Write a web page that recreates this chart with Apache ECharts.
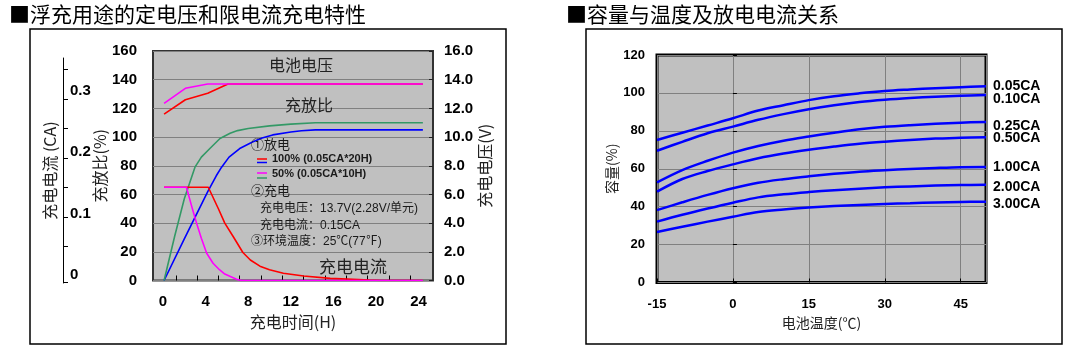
<!DOCTYPE html>
<html>
<head>
<meta charset="utf-8">
<script src="https://cdn.jsdelivr.net/npm/echarts@6/dist/echarts.min.js"></script>
<style>
html,body{margin:0;padding:0;background:#fff;}
#c{width:1071px;height:362px;}
</style>
</head>
<body>
<div id="c"></div>
<script>
// ---------- Left chart data ----------
const leftTitle = '■浮充用途的定电压和限电流充电特性';
const hourLabels = [0, 4, 8, 12, 16, 20, 24];
const hourTicks = [1.2, 3.2, 5.2, 7.2, 9.2, 11.2, 13.2, 15.2, 17.2, 19.2, 21.2, 23.2];
const caLabels = [0, 0.1, 0.2, 0.3];
const caTicks = [-0.0115, 0.0465, 0.0945, 0.1425, 0.1905, 0.2385, 0.2865, 0.3345];
// 充放比 (%) vs hours
const ratio100 = [[0.1,0],[2,29],[4.2,62],[5,73],[5.5,79],[6.2,86],[7.2,92],[8.4,96.5],[9.3,99.3],[10.3,101.5],[12,103.5],[13,104.4],[14.3,105],[24.4,105]];
const ratio50 = [[0.1,0],[1.1,31],[2,57],[3,79],[3.6,86],[4.4,92],[5.35,99],[6.3,102.6],[7,104.5],[8,106],[10,107.8],[12,109],[14.3,110],[24.4,110]];
// 充电电压 (V)
const volt100 = [[0.1,11.6],[2.1,12.6],[4.2,13.05],[6.1,13.7],[24.4,13.7]];
const volt50 = [[0.1,12.35],[2.1,13.4],[4.2,13.7],[24.4,13.7]];
// 充电电流 (plotted on % scale)
const curr100 = [[0.1,65],[4.25,65],[5.2,50],[5.8,40],[6.6,30.5],[7.5,19.5],[8.2,14.3],[9.1,10],[10,7.5],[11.3,5],[13.2,3.1],[15.7,1.5],[19.4,0.3],[20.5,0],[24.4,0]];
const curr50 = [[0.1,65],[2.2,65],[2.7,51.5],[3.15,40],[3.6,29.5],[4.1,19],[4.7,12],[5.3,7.5],[5.8,4.5],[6.9,0.8],[7.4,0],[24.4,0]];

// ---------- Right chart data ----------
const rightTitle = '■容量与温度及放电电流关系';
const temps = [-15, -10, -5, 0, 5, 10, 15, 20, 25, 30, 35, 40, 45, 50];
const rateNames = ['0.05CA', '0.10CA', '0.25CA', '0.50CA', '1.00CA', '2.00CA', '3.00CA'];
const cap005 = [75.2, 79, 82.8, 86.6, 90.7, 93.5, 96.2, 98.3, 99.8, 101, 101.8, 102.5, 103, 103.5];
const cap010 = [69.5, 74.2, 78.7, 82.2, 85.8, 88.8, 91.4, 93.5, 95.2, 96.4, 97.3, 98, 98.5, 98.9];
const cap025 = [52.8, 59.3, 64.2, 68.5, 72.0, 74.8, 77.0, 79.0, 80.8, 82.1, 83.0, 83.7, 84.3, 84.7];
const cap050 = [47.9, 54.6, 58.8, 62.3, 65.5, 68.0, 70.0, 71.7, 73.2, 74.3, 75.2, 75.9, 76.4, 76.6];
const cap100 = [38.2, 42.3, 46.2, 49.7, 52.6, 54.5, 56.0, 57.3, 58.4, 59.2, 59.9, 60.4, 60.8, 60.9];
const cap200 = [32.1, 35.7, 39.0, 42.1, 44.9, 46.5, 47.7, 48.7, 49.5, 50.2, 50.7, 51.1, 51.4, 51.6];
const cap300 = [26.6, 29.4, 32.1, 34.7, 37.2, 38.5, 39.5, 40.3, 40.9, 41.4, 41.8, 42.2, 42.5, 42.6];
const capSeries = [cap005, cap010, cap025, cap050, cap100, cap200, cap300];
const labelShift = [0, 4, 4, 1, 0, 2.5, 2.5];

const NUM = "'Liberation Sans', Arial, sans-serif";
const CJK = "'Noto Sans CJK SC', sans-serif";
const MIX = "'Liberation Sans', 'Noto Sans CJK SC', sans-serif";

const numLabel = (extra) => Object.assign({fontFamily: NUM, fontWeight: 'bold', fontSize: 15, color: '#000'}, extra || {});
const nameStyle = (size) => ({fontFamily: CJK, fontSize: size, color: '#222'});

const chart = echarts.init(document.getElementById('c'), null, {renderer: 'canvas'});

function txt(text, x, y, size, opts) {
  opts = opts || {};
  return {
    type: 'text', x: x, y: y, z: 50,
    style: {
      text: text, fontSize: size, fontFamily: opts.family || MIX,
      fontWeight: opts.weight || 'normal', fill: opts.color || '#1a1a1a',
      align: opts.align || 'left', verticalAlign: 'middle'
    }
  };
}
function seg(x1, y1, x2, y2, color) {
  return {type: 'line', z: 50, shape: {x1: x1, y1: y1, x2: x2, y2: y2}, style: {stroke: color, lineWidth: 1.5}};
}

const leftLine = (name, data, color, yIdx) => ({
  name: name, type: 'line', xAxisIndex: 0, yAxisIndex: yIdx, data: data,
  showSymbol: false, smooth: false,
  lineStyle: {color: color, width: 1.6}, itemStyle: {color: color}
});

const option = {
  animation: false,
  backgroundColor: '#fff',
  title: [
    {text: leftTitle, left: 9, top: 4, padding: 0, textStyle: {fontFamily: CJK, fontSize: 21, fontWeight: 'normal', color: '#000'}},
    {text: rightTitle, left: 566, top: 4, padding: 0, textStyle: {fontFamily: CJK, fontSize: 21, fontWeight: 'normal', color: '#000'}}
  ],
  grid: [
    {left: 153, top: 51, width: 280, height: 229.5, show: true, backgroundColor: '#C0C0C0', borderColor: '#333', borderWidth: 2, outerBoundsMode: 'none'},
    {left: 63, top: 58, width: 20, height: 225, outerBoundsMode: 'none'},
    {left: 657, top: 55, width: 329, height: 227.5, show: true, backgroundColor: '#C0C0C0', borderColor: '#000', borderWidth: 3, outerBoundsMode: 'none'}
  ],
  xAxis: [
    {
      gridIndex: 0, type: 'value', min: -0.94, max: 25.35,
      axisLine: {show: false},
      axisTick: {show: true, inside: true, length: 5, customValues: hourTicks, lineStyle: {color: '#000', width: 1}},
      axisLabel: numLabel({customValues: hourLabels, margin: 14}),
      splitLine: {show: false},
      name: '充电时间(H)', nameLocation: 'middle', nameGap: 32, nameTextStyle: nameStyle(16)
    },
    {gridIndex: 1, type: 'value', show: false, min: 0, max: 1},
    {
      gridIndex: 2, type: 'value', min: -15, max: 50, interval: 15,
      axisLine: {show: false},
      axisTick: {show: true, inside: true, length: 4, lineStyle: {color: '#000'}},
      axisLabel: numLabel({fontSize: 13, margin: 15, showMaxLabel: false}),
      splitLine: {show: true, lineStyle: {color: '#808080', width: 1}},
      name: '电池温度(℃)', nameLocation: 'middle', nameGap: 33, nameTextStyle: nameStyle(14)
    }
  ],
  yAxis: [
    {
      gridIndex: 0, type: 'value', min: 0, max: 160, interval: 20, position: 'left',
      axisLine: {show: false}, axisTick: {show: false},
      axisLabel: numLabel({margin: 16}),
      splitLine: {show: true, lineStyle: {color: '#808080', width: 1}},
      name: '充放比(%)', nameLocation: 'middle', nameRotate: 90, nameGap: 45, nameTextStyle: nameStyle(16)
    },
    {
      gridIndex: 0, type: 'value', min: 0, max: 16, interval: 2, position: 'right',
      axisLine: {show: false},
      axisTick: {show: true, inside: true, length: 4, lineStyle: {color: '#222'}},
      axisLabel: numLabel({margin: 11, formatter: (v) => v.toFixed(1)}),
      splitLine: {show: false},
      name: '充电电压(V)', nameLocation: 'middle', nameRotate: 90, nameGap: 41, nameTextStyle: nameStyle(16)
    },
    {
      gridIndex: 1, type: 'value', min: -0.013, max: 0.353, position: 'left',
      axisLine: {show: true, lineStyle: {color: '#000', width: 1}},
      axisTick: {show: true, inside: true, length: 5, customValues: caTicks, lineStyle: {color: '#000'}},
      axisLabel: numLabel({inside: true, margin: 7, customValues: caLabels, formatter: (v) => String(v)}),
      splitLine: {show: false},
      name: '充电电流 (CA)', nameLocation: 'middle', nameRotate: 90, nameGap: 5, nameTextStyle: nameStyle(16)
    },
    {
      gridIndex: 2, type: 'value', min: 0, max: 120, interval: 20,
      axisLine: {show: false},
      axisTick: {show: true, inside: true, length: 4, lineStyle: {color: '#000'}},
      axisLabel: numLabel({fontSize: 13, margin: 12}),
      splitLine: {show: true, lineStyle: {color: '#808080', width: 1}},
      name: '容量(%)', nameLocation: 'middle', nameRotate: 90, nameGap: 38, nameTextStyle: nameStyle(14)
    }
  ],
  series: [
    leftLine('充放比 100%', ratio100, '#0000FF', 0),
    leftLine('充放比 50%', ratio50, '#339966', 0),
    leftLine('充电电压 100%', volt100, '#FF0000', 1),
    leftLine('充电电流 100%', curr100, '#FF0000', 0),
    leftLine('充电电压 50%', volt50, '#FF00FF', 1),
    leftLine('充电电流 50%', curr50, '#FF00FF', 0)
  ].concat(rateNames.map((n, i) => ({
    name: n, type: 'line', xAxisIndex: 2, yAxisIndex: 3,
    data: temps.map((t, j) => [t, capSeries[i][j]]),
    showSymbol: false, smooth: 0.35,
    lineStyle: {color: '#0000FF', width: 2.5}, itemStyle: {color: '#0000FF'},
    endLabel: {show: true, formatter: '{a}', distance: 7, offset: [0, labelShift[i]],
      fontFamily: NUM, fontWeight: 'bold', fontSize: 14, color: '#000'}
  }))),
  graphic: [
    {type: 'rect', z: 40, shape: {x: 30, y: 29, width: 476, height: 315}, style: {fill: 'none', stroke: '#000', lineWidth: 1.5}},
    {type: 'rect', z: 40, shape: {x: 586, y: 29, width: 476, height: 315}, style: {fill: 'none', stroke: '#000', lineWidth: 1.5}},
    txt('电池电压', 301, 65, 16, {family: CJK, align: 'center', color: '#222'}),
    txt('充放比', 309, 105, 16, {family: CJK, align: 'center', color: '#222'}),
    txt('充电电流', 353, 267, 17, {family: CJK, align: 'center', color: '#222'}),
    txt('①放电', 251, 145, 13),
    seg(257, 159, 267, 159, '#FF0000'),
    seg(257, 162.5, 267, 162.5, '#0000FF'),
    txt('100% (0.05CA*20H)', 272, 158.5, 11, {weight: 'bold'}),
    seg(257, 173, 267, 173, '#FF00FF'),
    seg(257, 178, 267, 178, '#339966'),
    txt('50% (0.05CA*10H)', 272, 173.5, 11, {weight: 'bold'}),
    txt('②充电', 251, 191, 13),
    txt('充电电压：13.7V(2.28V/单元)', 260, 208.5, 12),
    txt('充电电流：0.15CA', 260, 225.5, 12),
    txt('③环境温度：25℃(77℉)', 251, 241.5, 12)
  ]
};
chart.setOption(option);
</script>
</body>
</html>
